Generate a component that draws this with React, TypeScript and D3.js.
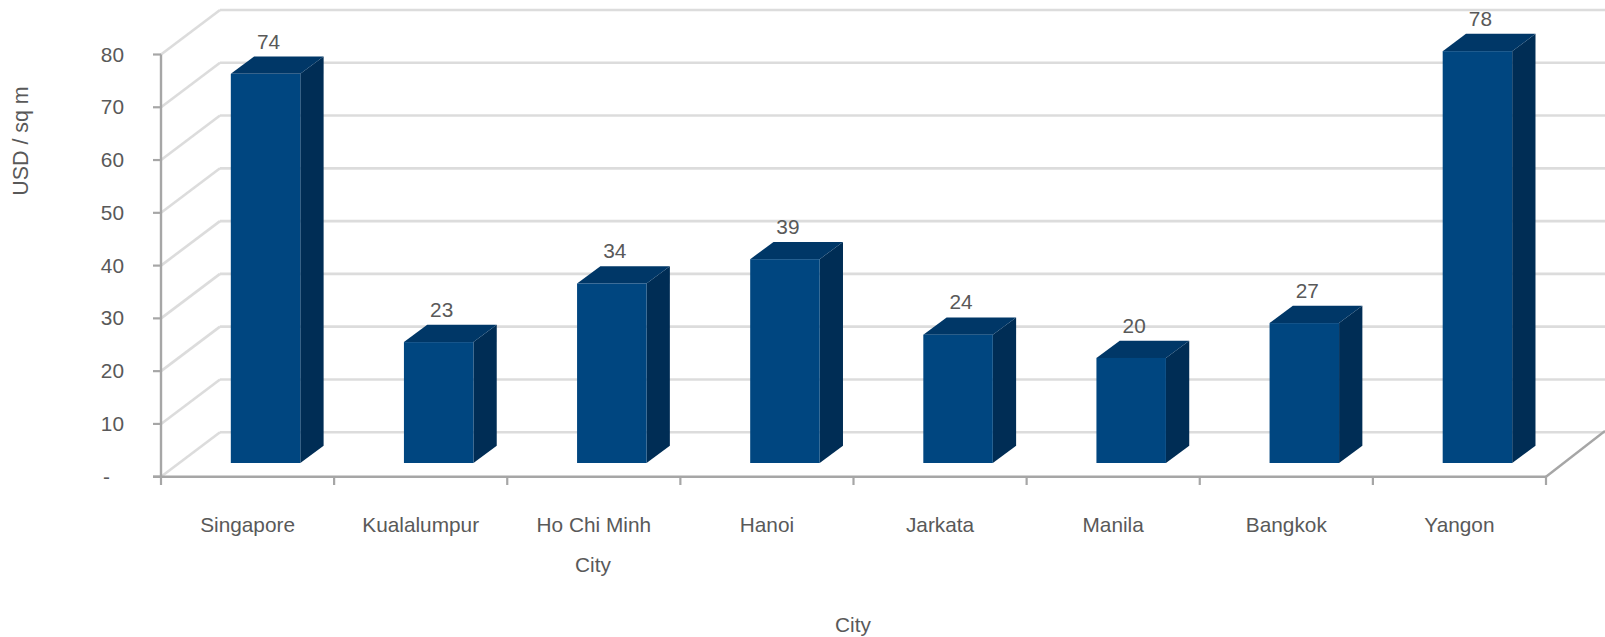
import React from "react";
import * as d3 from "d3";

const cities = ["Singapore", "Kualalumpur", "Ho Chi Minh", "Hanoi", "Jarkata", "Manila", "Bangkok", "Yangon"];
const values = [73.7, 22.9, 34.0, 38.6, 24.3, 19.9, 26.5, 78.0];
const yTicks = [0, 10, 20, 30, 40, 50, 60, 70, 80];

const W = 1605, H = 637;
const FONT = "'Liberation Sans', Arial, sans-serif";
const TEXT = "#595959";
const GRID = "#dcdcdc";
const AXIS = "#a6a6a6";
const DX = 59, DY = -44.5;
const FS = 20.8;

const x = d3.scaleBand<string>().domain(cities).range([161, 1546]);
const y = d3.scaleLinear().domain([0, 80]).range([476.7, 54.5]);
const barY = d3.scaleLinear().domain([0, 80]).range([463, 40.6]);
const fmt = d3.format(".0f");
const poly = (p: number[][]) => p.map((q) => q.join(",")).join(" ");

export default function App() {
  const BW = 69.5, OFF = 69.5, SX = 23.3, SY = -17.3;
  return (
    <svg width={W} height={H} viewBox={`0 0 ${W} ${H}`} style={{ position: "absolute", left: 0, top: 0, display: "block", background: "#fff" }} fontFamily={FONT}>
      {yTicks.map((t) => (
        <g key={t} fill="none" stroke={GRID} strokeWidth={2.6}>
          <line x1={161} y1={y(t)} x2={161 + DX} y2={y(t) + DY} />
          <line x1={161 + DX} y1={y(t) + DY} x2={W} y2={y(t) + DY} />
        </g>
      ))}
      <line x1={1546} y1={476.7} x2={1605} y2={431} stroke={AXIS} strokeWidth={2.4} />
      <line x1={161} y1={54.5} x2={161} y2={476.7} stroke={AXIS} strokeWidth={2.4} />
      <line x1={153} y1={476.7} x2={1546} y2={476.7} stroke={AXIS} strokeWidth={2.4} />
      {yTicks.map((t) => (
        <g key={t}>
          <line x1={153} y1={y(t)} x2={161} y2={y(t)} stroke={AXIS} strokeWidth={2.2} />
          <text x={t === 0 ? 103 : 124} y={y(t) + 7} textAnchor={t === 0 ? "start" : "end"} fontSize={FS} fill={TEXT}>{t === 0 ? "-" : t}</text>
        </g>
      ))}
      {[...cities.map((c) => x(c) as number), 1546].map((p, i) => (
        <line key={i} x1={p} y1={476.7} x2={p} y2={485} stroke={AXIS} strokeWidth={2.2} />
      ))}
      {cities.map((c, i) => {
        const left = (x(c) as number) + x.bandwidth() / 2 - OFF / 2 + 18;
        const top = barY(values[i]);
        const base = barY(0);
        const right = left + BW;
        return (
          <g key={c}>
            <polygon points={poly([[right, top], [right + SX, top + SY], [right + SX, base + SY], [right, base]])} fill="#002d55" />
            <polygon points={poly([[left, top], [left + SX, top + SY], [right + SX, top + SY], [right, top]])} fill="#003767" />
            <rect x={left} y={top} width={BW} height={base - top} fill="#004680" />
            <text x={left + BW / 2 + 3} y={top + SY - 8} textAnchor="middle" fontSize={FS} fill={TEXT}>{fmt(values[i])}</text>
            <text x={(x(c) as number) + x.bandwidth() / 2} y={531.5} textAnchor="middle" fontSize={FS} fill={TEXT}>{c}</text>
          </g>
        );
      })}
      <text x={593} y={572} textAnchor="middle" fontSize={FS} fill={TEXT}>City</text>
      <text x={853} y={632} textAnchor="middle" fontSize={FS} fill={TEXT}>City</text>
      <text transform="translate(27.5,141) rotate(-90)" textAnchor="middle" fontSize={21.4} fill={TEXT}>USD / sq m</text>
    </svg>
  );
}
